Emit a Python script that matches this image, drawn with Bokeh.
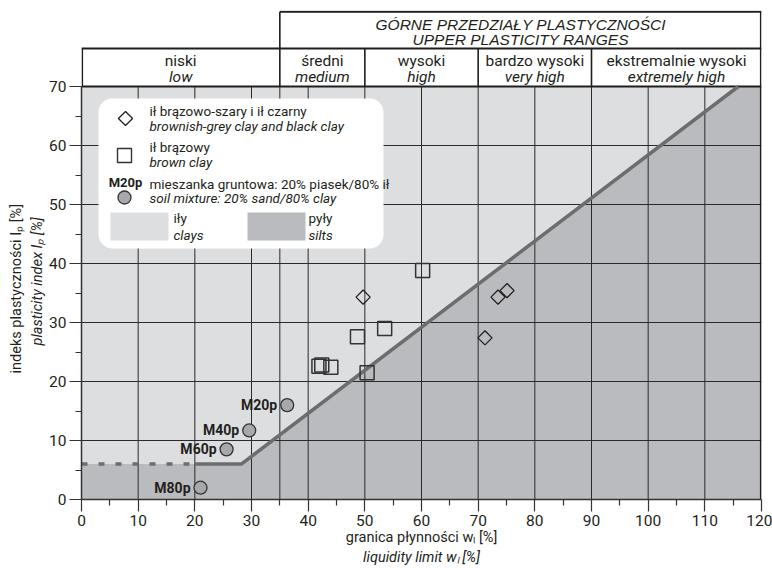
import math
from bokeh.plotting import figure
from bokeh.models import FixedTicker, BoxAnnotation, Range1d, LinearAxis, Title
from bokeh.core.properties import value
from bokeh.embed import file_html
from bokeh.resources import INLINE

# ---------------- data ----------------
diamond_wl = [49.7, 71.2, 73.5, 75.1]
diamond_ip = [34.3, 27.4, 34.3, 35.4]

square_wl = [41.9, 42.4, 44.0, 48.7, 50.4, 53.5, 60.2]
square_ip = [22.6, 22.8, 22.4, 27.6, 21.5, 29.0, 38.8]

mix_labels = ["M20p", "M40p", "M60p", "M80p"]
mix_wl = [36.3, 29.6, 25.6, 21.0]
mix_ip = [16.0, 11.7, 8.5, 2.0]

# A-line
a_dash_wl = [0, 20]
a_dash_ip = [6, 6]
a_line_wl = [20, 28.2, 115.9]
a_line_ip = [6, 6, 70]

zone_bounds = [0, 35, 50, 70, 90, 120]
zone_pl = ["niski", "średni", "wysoki", "bardzo wysoki", "ekstremalnie wysoki"]
zone_en = ["low", "medium", "high", "very high", "extremely high"]

x_ticks = [0, 10, 20, 30, 40, 50, 60, 70, 80, 90, 100, 110, 120]
x_minor = [5, 15, 25, 35, 45, 55, 65, 75, 85, 95, 105, 115]
y_ticks = [0, 10, 20, 30, 40, 50, 60, 70]
y_minor = [5, 15, 25, 35, 45, 55, 65]
x_grid = [10, 20, 30, 35, 40, 50, 60, 70, 80, 90, 100, 110]
y_grid = [10, 20, 30, 40, 50, 60]

# ---------------- layout ----------------
FONT = "Roboto"
TXT = "#231f20"
CLAY = "#dddee0"
SILT = "#babbbe"
LINE = "#6d6d6d"
GRID = "#2a2a2a"

W, H = 772, 568
X_MAX = 120.0
Y_MAX = 70.0
ML, MR, MT, MB = 81, 11, 10, 69
FW = W - ML - MR            # 680
FH = H - MT - MB            # 489
SX = FW / X_MAX
SY = 413.0 / Y_MAX
Y_TOP = FH / SY


def xd(px):                 # canvas px -> data x
    return (px - ML) / SX


def yd(py):                 # canvas px -> data y
    return (MT + FH - py) / SY


p = figure(width=W, height=H, x_range=Range1d(0, X_MAX), y_range=Range1d(0, Y_TOP),
           output_backend="svg", toolbar_location=None,
           min_border_left=ML, min_border_right=MR, min_border_top=MT, min_border_bottom=MB)
p.xgrid.visible = False
p.ygrid.visible = False
p.outline_line_color = None
p.background_fill_color = "white"
p.border_fill_color = "white"

# background zones (clays above the A-line, silts below)
clay_x = [0, a_line_wl[1], a_line_wl[2], 0]
clay_y = [a_dash_ip[0], a_line_ip[1], a_line_ip[2], Y_MAX]
silt_x = [0, X_MAX, X_MAX, a_line_wl[2], a_line_wl[1], 0]
silt_y = [0, 0, Y_MAX, a_line_ip[2], a_line_ip[1], a_dash_ip[0]]
p.patch(clay_x, clay_y, fill_color=CLAY, line_color=None, level="image")
p.patch(silt_x, silt_y, fill_color=SILT, line_color=None, level="image")

# grid
p.segment(x0=x_grid, y0=[0] * len(x_grid), x1=x_grid, y1=[Y_MAX] * len(x_grid),
          line_color=GRID, line_width=1, level="image")
p.segment(x0=[0] * len(y_grid), y0=y_grid, x1=[X_MAX] * len(y_grid), y1=y_grid,
          line_color=GRID, line_width=1, level="image")

# header borders
y_row = yd(48)
y_top_line = Y_TOP - 1.2 / SY
x_left = xd(81.8)
x_right = xd(760.2)
hx = [zone_bounds[1], x_right, x_left, zone_bounds[2], zone_bounds[3], zone_bounds[4]]
hy0 = [Y_MAX, 0, Y_MAX, Y_MAX, Y_MAX, Y_MAX]
hy1 = [y_top_line, y_top_line, y_row, y_row, y_row, y_row]
p.segment(x0=hx, y0=hy0, x1=hx, y1=hy1, line_color="#1e1e1e", line_width=1.6, level="image")
p.segment(x0=[0, 0, zone_bounds[1]], y0=[Y_MAX, y_row, y_top_line],
          x1=[X_MAX, X_MAX, X_MAX], y1=[Y_MAX, y_row, y_top_line],
          line_color="#1e1e1e", line_width=2, level="image")

# header texts
mids = [(zone_bounds[i] + zone_bounds[i + 1]) / 2 for i in range(len(zone_pl))]
p.text(x=mids, y=[yd(60)] * len(mids), text=zone_pl, text_font=value(FONT),
       text_font_size="15.5px", text_align="center", text_baseline="middle", text_color=TXT)
p.text(x=mids, y=[yd(76)] * len(mids), text=zone_en, text_font=value(FONT),
       text_font_size="15.5px", text_font_style="italic", text_align="center",
       text_baseline="middle", text_color=TXT)
top_mid = (zone_bounds[1] + zone_bounds[-1]) / 2
p.text(x=[top_mid, top_mid], y=[yd(23.5), yd(38.5)],
       text=["GÓRNE PRZEDZIAŁY PLASTYCZNOŚCI", "UPPER PLASTICITY RANGES"],
       text_font=value("Liberation Sans"), text_font_size="15.5px", text_font_style="italic",
       text_align="center", text_baseline="middle", text_color=TXT)

# A-line
p.line(a_dash_wl, a_dash_ip, line_color=LINE, line_width=3.5, line_dash="6 11")
p.line(a_line_wl, a_line_ip, line_color=LINE, line_width=3.5)

# legend box
box = BoxAnnotation(left=xd(98), right=xd(383), top=yd(98), bottom=yd(248),
                    fill_color="white", fill_alpha=1.0, line_alpha=0.0,
                    border_radius=14, level="underlay")
p.add_layout(box)

LFS = "13.5px"
lx = xd(149)
p.scatter([xd(125)], [yd(118)], marker="square", angle=math.pi / 4, size=10,
          fill_alpha=0, line_color=TXT, line_width=1.3)
p.scatter([xd(124)], [yd(155)], marker="square", size=14,
          fill_alpha=0, line_color="#333333", line_width=1.4)
p.scatter([xd(124)], [yd(197)], marker="circle", size=13,
          fill_color="#a7a8ab", line_color="#333333", line_width=1.3)
p.text(x=[xd(125)], y=[yd(182)], text=["M20p"], text_font=value(FONT), text_font_size="13px",
       text_font_style="bold", text_align="center", text_baseline="middle", text_color=TXT)
p.text(x=[lx, lx, lx], y=[yd(110), yd(146), yd(183)],
       text=["ił brązowo-szary i ił czarny", "ił brązowy",
             "mieszanka gruntowa: 20% piasek/80% ił"],
       text_font=value(FONT), text_font_size=LFS, text_align="left",
       text_baseline="middle", text_color=TXT)
p.text(x=[lx, lx, lx], y=[yd(125.5), yd(161.5), yd(197.5)],
       text=["brownish-grey clay and black clay", "brown clay",
             "soil mixture: 20% sand/80% clay"],
       text_font=value(FONT), text_font_size=LFS, text_font_style="italic",
       text_align="left", text_baseline="middle", text_color=TXT)
p.quad(left=[xd(110), xd(247)], right=[xd(168), xd(305)], top=[yd(212), yd(212)],
       bottom=[yd(240), yd(240)], fill_color=[CLAY, SILT], line_color=None)
p.text(x=[xd(173), xd(308)], y=[yd(217), yd(217)], text=["iły", "pyły"],
       text_font=value(FONT), text_font_size=LFS, text_align="left",
       text_baseline="middle", text_color=TXT)
p.text(x=[xd(173), xd(308)], y=[yd(234), yd(234)], text=["clays", "silts"],
       text_font=value(FONT), text_font_size=LFS, text_font_style="italic",
       text_align="left", text_baseline="middle", text_color=TXT)

# data points
p.scatter(diamond_wl, diamond_ip, marker="square", angle=math.pi / 4, size=10,
          fill_alpha=0, line_color=TXT, line_width=1.3)
p.scatter(square_wl, square_ip, marker="square", size=14,
          fill_alpha=0, line_color="#333333", line_width=1.5)
p.scatter(mix_wl, mix_ip, marker="circle", size=13,
          fill_color="#a7a8ab", line_color="#333333", line_width=1.3)
p.text(x=mix_wl, y=mix_ip, text=mix_labels, x_offset=-10, text_font=value(FONT),
       text_font_size="14px", text_font_style="bold", text_align="right",
       text_baseline="middle", text_color=TXT)

# axes
TFS = "14.5px"
for ax, tk, mn in ((p.xaxis[0], x_ticks, x_minor), (p.yaxis[0], y_ticks, y_minor)):
    ax.ticker = FixedTicker(ticks=tk, minor_ticks=mn)
    ax.major_tick_out = 12
    ax.major_tick_in = 0
    ax.minor_tick_out = 6
    ax.minor_tick_in = 0
    ax.major_tick_line_color = "#333333"
    ax.minor_tick_line_color = "#333333"
    ax.major_tick_line_width = 1.2
    ax.minor_tick_line_width = 1.2
    ax.axis_line_color = "#333333"
    ax.axis_line_width = 1.5
    ax.major_label_text_font = FONT
    ax.major_label_text_font_size = "15.5px"
    ax.major_label_text_color = TXT
    ax.major_label_standoff = 3
    ax.axis_label_text_font = FONT
    ax.axis_label_text_font_size = TFS
    ax.axis_label_text_color = TXT
p.yaxis[0].bounds = (0, Y_MAX)
p.xaxis[0].bounds = (0, X_MAX)

p.xaxis[0].axis_label = "granica płynności wₗ [%]"
p.xaxis[0].axis_label_text_font_style = "normal"
p.xaxis[0].axis_label_standoff = 0

p.add_layout(LinearAxis(ticker=FixedTicker(ticks=[]), bounds=(0, X_MAX),
                        axis_line_color=None, major_tick_line_color=None,
                        minor_tick_line_color=None, major_tick_out=0, major_tick_in=0,
                        minor_tick_out=0, minor_tick_in=0, major_label_standoff=0,
                        major_label_text_font_size="0px", axis_label="liquidity limit wₗ [%]",
                        axis_label_standoff=0, axis_label_text_font=FONT,
                        axis_label_text_font_size=TFS, axis_label_text_font_style="italic",
                        axis_label_text_color=TXT), "below")

# y titles: start of each line measured from the frame bottom
p.add_layout(Title(text="plasticity index Iₚ [%]", align="left", offset=154,
                   standoff=2, text_font=FONT, text_font_size=TFS,
                   text_font_style="italic", text_color=TXT), "left")
p.add_layout(Title(text="indeks plastyczności Iₚ [%]", align="left", offset=126,
                   standoff=2, text_font=FONT, text_font_size=TFS,
                   text_font_style="normal", text_color=TXT), "left")

open("out.html", "w").write(file_html(p, INLINE))
